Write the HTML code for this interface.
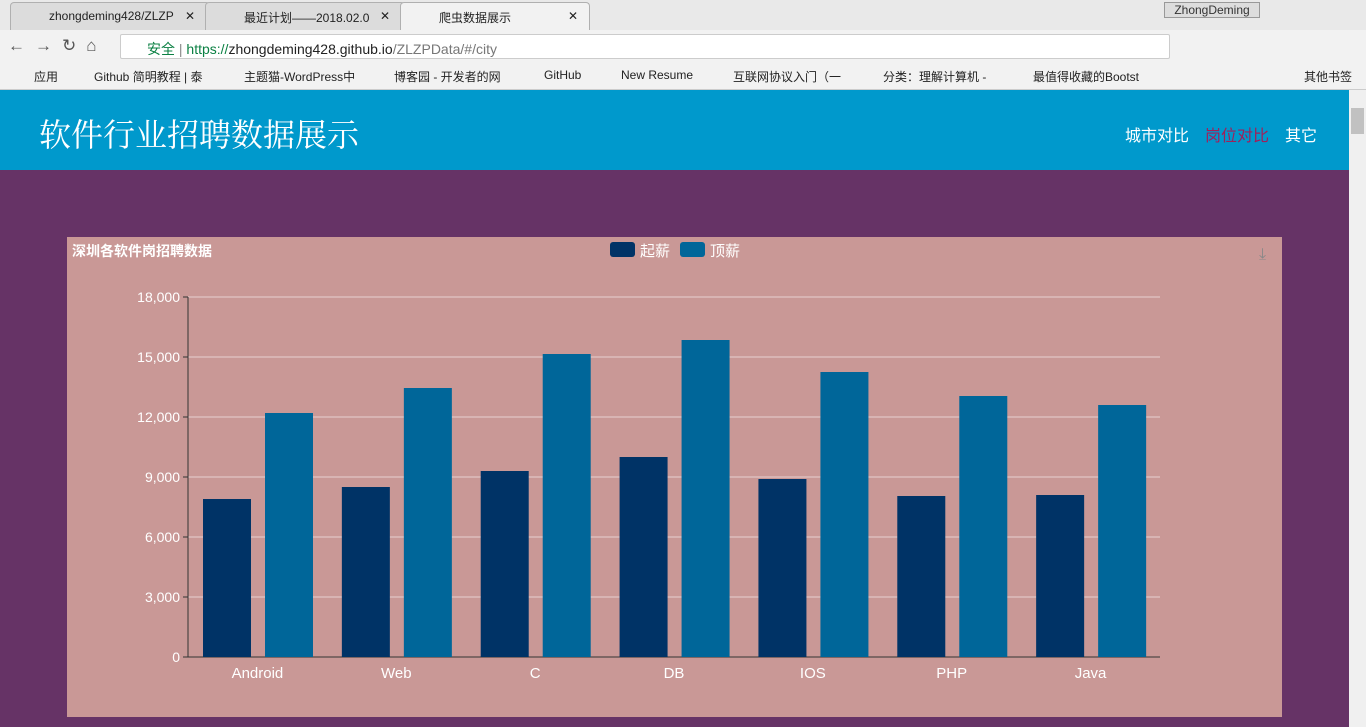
<!DOCTYPE html>
<html><head><meta charset="utf-8"><style>
*{margin:0;padding:0;box-sizing:border-box}
body{width:1366px;height:727px;overflow:hidden;font-family:"Liberation Sans","Noto Sans CJK SC",sans-serif;background:#663366;position:relative}
.abs{position:absolute}
.tab{position:absolute;top:2px;height:28px;background:#dcdcdc;border:1px solid #b0b0b0;border-bottom:none;border-radius:4px 4px 0 0;font-size:12px;padding:6px 0 0 38px;color:#222;white-space:nowrap;overflow:hidden}
.bm{position:absolute;top:68px;font-size:12px;color:#222;white-space:nowrap}
</style></head><body>
<div class="abs" style="left:0;top:0;width:1366px;height:30px;background:#e9e9e9"></div>
<div class="tab" style="left:10px;width:200px">zhongdeming428/ZLZP<span style="position:absolute;left:174px">✕</span></div>
<div class="tab" style="left:205px;width:200px">最近计划——2018.02.0<span style="position:absolute;left:174px">✕</span></div>
<div class="tab" style="left:400px;width:190px;background:#f2f2f2">爬虫数据展示<span style="position:absolute;left:167px">✕</span></div>
<div class="abs" style="left:1164px;top:2px;width:96px;height:16px;border:1px solid #999;font-size:12px;text-align:center;color:#333;background:#ddd">ZhongDeming</div>
<div class="abs" style="left:0;top:30px;width:1366px;height:32px;background:#f2f2f2"></div>
<div class="abs" style="left:8px;top:36px;font-size:17px;color:#555;letter-spacing:10px">←→↻⌂</div>
<div class="abs" style="left:120px;top:34px;width:1050px;height:25px;background:#fff;border:1px solid #ccc;border-radius:2px;font-size:14px;padding:4px 0 0 26px;color:#0b8043">安全 <span style="color:#888">|</span> <span style="color:#0b8043">https://</span><span style="color:#222">zhongdeming428.github.io</span><span style="color:#777">/ZLZPData/#/city</span></div>
<div class="abs" style="left:0;top:62px;width:1366px;height:28px;background:#f2f2f2;border-bottom:1px solid #ccc"></div>
<div class="bm" style="left:34px">应用</div>
<div class="bm" style="left:94px">Github 简明教程 | 泰</div>
<div class="bm" style="left:244px">主题猫-WordPress中</div>
<div class="bm" style="left:394px">博客园 - 开发者的网</div>
<div class="bm" style="left:544px">GitHub</div>
<div class="bm" style="left:621px">New Resume</div>
<div class="bm" style="left:733px">互联网协议入门（一</div>
<div class="bm" style="left:883px">分类：理解计算机 -</div>
<div class="bm" style="left:1033px">最值得收藏的Bootst</div>
<div class="bm" style="left:1304px">其他书签</div>
<div class="abs" style="left:1349px;top:90px;width:17px;height:637px;background:#f0f0f0"><div style="margin:18px 2px;height:26px;background:#c1c1c1"></div></div>
<div class="abs" style="left:0;top:90px;width:1349px;height:80px;background:#0099cc">
 <div class="abs" style="left:39px;top:20px;font-size:32px;color:#fff;font-family:'Noto Serif CJK SC',serif">软件行业招聘数据展示</div>
 <div class="abs" style="left:1125px;top:32px;font-size:16px;color:#fff">城市对比</div>
 <div class="abs" style="left:1205px;top:32px;font-size:16px;color:#a0205a">岗位对比</div>
 <div class="abs" style="left:1285px;top:32px;font-size:16px;color:#fff">其它</div>
</div>
<svg class="abs" style="left:67px;top:237px" width="1215" height="480" id="chart"></svg>
<script>
const categories=["Android","Web","C","DB","IOS","PHP","Java"];
const startSalary=[7900,8500,9300,10000,8900,8050,8100];
const topSalary=[12200,13450,15150,15850,14250,13050,12600];
const yTicks=[0,3000,6000,9000,12000,15000,18000];
const NS="http://www.w3.org/2000/svg";
const svg=document.getElementById('chart');
function mk(t,a,p){const e=document.createElementNS(NS,t);for(const k in a)e.setAttribute(k,a[k]);(p||svg).appendChild(e);return e;}
const x0=121,x1=1093,y0=420,yTop=60,yMax=18000;
const y=v=>y0-(v/yMax)*(y0-yTop);
const bw=(x1-x0)/categories.length;
const bg=mk('rect',{x:0,y:0,width:1215,height:480,fill:'#c99896'});

const tt=mk('text',{x:5,y:19,fill:'#fff','font-size':14,'font-weight':'bold'});tt.textContent='深圳各软件岗招聘数据';

const lg=[['起薪','#003366',543],['顶薪','#006699',613]];
lg.forEach(l=>{const r=mk('rect',{x:l[2],y:5,width:25,height:15,rx:3,fill:l[1]});

const t=mk('text',{x:l[2]+30,y:19,fill:'#fff','font-size':15});t.textContent=l[0];
});
const dl=mk('text',{x:1192,y:22,fill:'#888','font-size':16});dl.textContent='⤓';

yTicks.forEach(v=>{
 if(v>0){const g=mk('line',{x1:x0,x2:x1,y1:y(v),y2:y(v),stroke:'#e6d0d0','stroke-width':1});}
 const tk=mk('line',{x1:x0-5,x2:x0,y1:y(v),y2:y(v),stroke:'#333'});
 const t=mk('text',{x:x0-8,y:y(v)+5,fill:'#fff','font-size':14,'text-anchor':'end'});t.textContent=v.toLocaleString('en-US');
 
});
const ax=mk('line',{x1:x0,x2:x0,y1:yTop,y2:y0,stroke:'#333'});
const xa=mk('line',{x1:x0,x2:x1,y1:y0,y2:y0,stroke:'#333'});
categories.forEach((c,i)=>{
 const cx=x0+bw*i;
 const b1=mk('rect',{x:cx+15,y:y(startSalary[i]),width:48,height:y0-y(startSalary[i]),fill:'#003366'});
 
 const b2=mk('rect',{x:cx+77,y:y(topSalary[i]),width:48,height:y0-y(topSalary[i]),fill:'#006699'});
 
 const t=mk('text',{x:cx+bw/2,y:y0+21,fill:'#fff','font-size':15,'text-anchor':'middle'});t.textContent=c;
 
});
</script>
</body></html>
